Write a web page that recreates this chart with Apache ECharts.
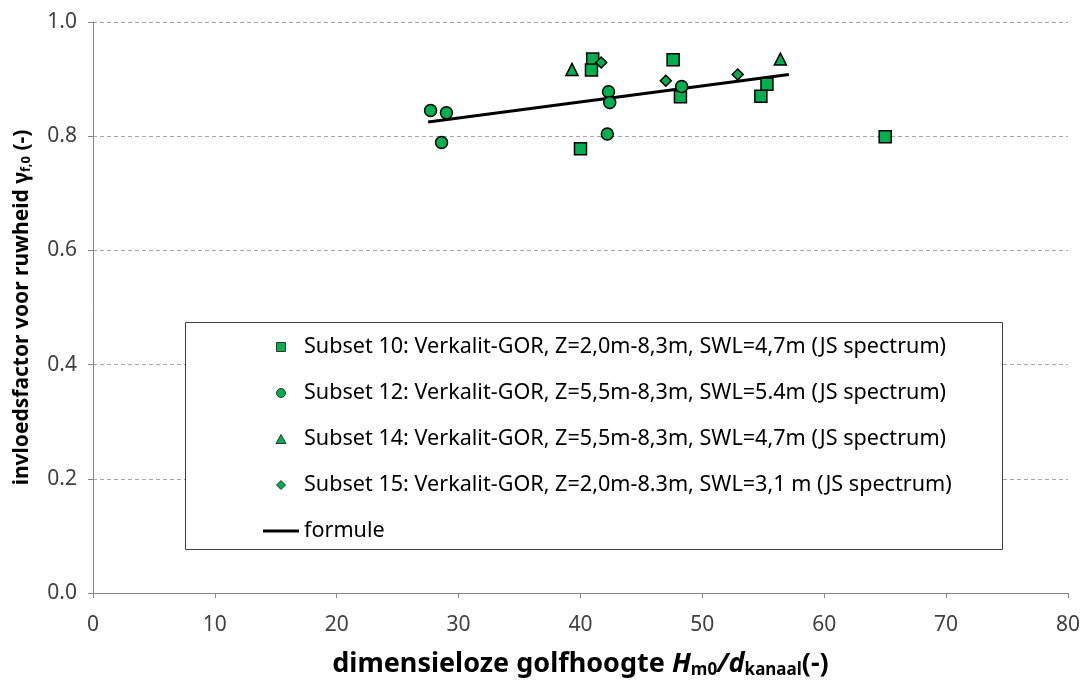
<!DOCTYPE html>
<html><head><meta charset="utf-8">
<script src="https://cdn.jsdelivr.net/npm/echarts@6/dist/echarts.min.js"></script>
<style>html,body{margin:0;padding:0;background:#fff}#c{width:1083px;height:684px}</style>
</head><body><div id="c"></div>
<script>
const subset10 = [[41.0,0.935],[40.9,0.916],[40.0,0.778],[47.6,0.934],[48.2,0.869],[55.3,0.891],[54.8,0.870],[65.0,0.799]];
const subset12 = [[27.7,0.845],[29.0,0.841],[28.6,0.789],[42.3,0.878],[42.4,0.859],[42.2,0.804],[48.3,0.887]];
const subset14 = [[39.3,0.917],[56.4,0.935]];
const subset15 = [[41.7,0.929],[47.0,0.897],[52.9,0.908]];
const formule = [[27.5,0.825],[57.1,0.908]];
const names = [
  'Subset 10: Verkalit-GOR, Z=2,0m-8,3m, SWL=4,7m (JS spectrum)',
  'Subset 12: Verkalit-GOR, Z=5,5m-8,3m, SWL=5.4m (JS spectrum)',
  'Subset 14: Verkalit-GOR, Z=5,5m-8,3m, SWL=4,7m (JS spectrum)',
  'Subset 15: Verkalit-GOR, Z=2,0m-8.3m, SWL=3,1 m (JS spectrum)',
  'formule'
];
const xTicks = [0,10,20,30,40,50,60,70,80];
const yTicks = [0.0,0.2,0.4,0.6,0.8,1.0];

const FONT = 'Noto Sans';
const green = '#00B050';
const icons = {
  rect:'path://M0,0h10v10h-10z',
  circle:'path://M5,0A5,5,0,1,1,5,10A5,5,0,1,1,5,0z',
  triangle:'path://M5,0L10,9L0,9z',
  diamond:'path://M5,0L10,5L5,10L0,5z',
  line:'path://M0,0h36v3h-36z'
};
const mk = (name, data, symbol, size) => ({
  name, type:'scatter', data, symbol, symbolSize:size, symbolKeepAspect:true,
  itemStyle:{color:green, borderColor:'#000', borderWidth:1.5, opacity:1},
  z:3
});
const chart = echarts.init(document.getElementById('c'), null, {renderer:'canvas'});
chart.setOption({
  animation:false,
  textStyle:{fontFamily:FONT},
  grid:{left:93, right:15, top:22, bottom:89},
  graphic:[{
    type:'rect', left:185, top:322, z:5,
    shape:{width:817, height:227},
    style:{fill:'#fff', stroke:'#404040', lineWidth:1}
  }],
  xAxis:{
    type:'value', min:xTicks[0], max:xTicks[xTicks.length-1], interval:10,
    axisLine:{lineStyle:{color:'#868686'}},
    axisTick:{show:true, length:5, lineStyle:{color:'#868686'}},
    axisLabel:{color:'#404040', fontSize:21, margin:22, fontFamily:FONT},
    splitLine:{show:false},
    name:'{b|dimensieloze golfhoogte }{bi|H}{s|m0}{bi|/d}{s|kanaal}{b|(-)}',
    nameLocation:'middle', nameGap:56,
    nameTextStyle:{rich:{
      b:{fontSize:27, fontWeight:'bold', color:'#000', fontFamily:FONT},
      bi:{fontSize:27, fontWeight:'bold', fontStyle:'italic', color:'#000', fontFamily:FONT},
      s:{fontSize:17, fontWeight:'bold', color:'#000', fontFamily:FONT, padding:[13,0,0,0]}
    }}
  },
  yAxis:{
    type:'value', min:yTicks[0], max:yTicks[yTicks.length-1], interval:0.2,
    axisLine:{show:true, lineStyle:{color:'#868686'}},
    axisTick:{show:true, length:5, lineStyle:{color:'#868686'}},
    axisLabel:{color:'#404040', fontSize:21, margin:16, fontFamily:FONT, formatter:v=>v.toFixed(1)},
    splitLine:{show:true, lineStyle:{color:'#A6A6A6', type:[4,3], width:1}},
    name:'{b|invloedsfactor voor ruwheid γ}{s|f,0}{b| (-)}',
    nameLocation:'middle', nameGap:60,
    nameTextStyle:{rich:{
      b:{fontSize:21, fontWeight:'bold', color:'#000', fontFamily:FONT},
      s:{fontSize:13, fontWeight:'bold', color:'#000', fontFamily:FONT, padding:[9,0,0,0]}
    }}
  },
  legend:{
    orient:'vertical', left:263, top:336, z:10,
    padding:0, symbolKeepAspect:true,
    itemGap:24, itemWidth:36, itemHeight:9,
    textStyle:{fontSize:21.6, color:'#000', fontFamily:FONT},
    itemStyle:{borderWidth:1, borderColor:'#333'},
    data:[
      {name:names[0], icon:icons.rect},
      {name:names[1], icon:icons.circle},
      {name:names[2], icon:icons.triangle},
      {name:names[3], icon:icons.diamond},
      {name:names[4], icon:icons.line, itemStyle:{borderWidth:0, color:'#000'}}
    ]
  },
  series:[
    mk(names[0], subset10, 'rect', 12),
    mk(names[1], subset12, 'circle', 12),
    mk(names[2], subset14, 'triangle', 12),
    mk(names[3], subset15, 'diamond', 11),
    {name:names[4], type:'line', data:formule, symbol:'none', lineStyle:{color:'#000', width:3}, itemStyle:{color:'#000'}, z:2}
  ]
});
</script></body></html>
